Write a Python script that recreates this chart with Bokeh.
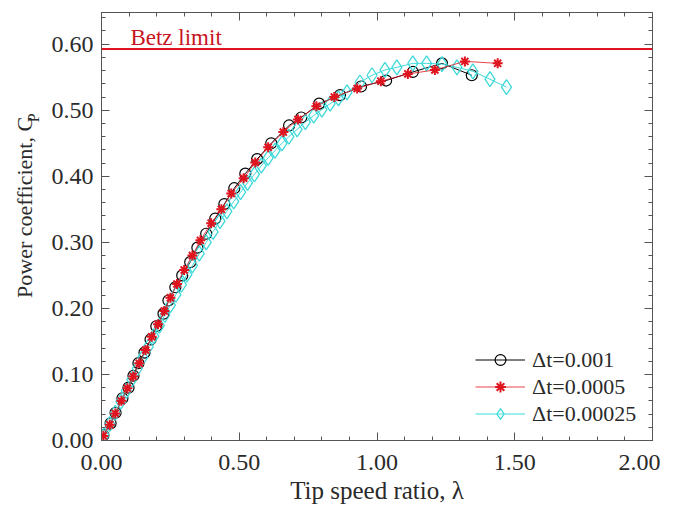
import math
from bokeh.plotting import figure
from bokeh.layouts import row
from bokeh.core.properties import value
from bokeh.models import (Range1d, LinearAxis, NumeralTickFormatter, SingleIntervalTicker,
                          CustomJSTickFormatter, Span, Label, Legend, LegendItem)
from bokeh.embed import file_html
from bokeh.resources import INLINE

# ---- data ----
lam_1 = [0.007, 0.033, 0.051, 0.076, 0.098, 0.116, 0.134, 0.156, 0.178, 0.199, 0.225, 0.243,
         0.268, 0.293, 0.322, 0.348, 0.380, 0.413, 0.446, 0.482, 0.522, 0.565, 0.616, 0.681,
         0.725, 0.790, 0.866, 0.942, 1.033, 1.130, 1.236, 1.344]
cp_1 = [0.008, 0.026, 0.042, 0.064, 0.080, 0.098, 0.117, 0.133, 0.153, 0.173, 0.192, 0.212,
        0.232, 0.250, 0.270, 0.292, 0.313, 0.336, 0.358, 0.382, 0.404, 0.426, 0.450, 0.477,
        0.489, 0.510, 0.523, 0.536, 0.545, 0.558, 0.571, 0.553]

lam_2 = [0.007, 0.030, 0.050, 0.072, 0.094, 0.115, 0.137, 0.160, 0.182, 0.205, 0.228, 0.250,
         0.274, 0.300, 0.330, 0.359, 0.398, 0.435, 0.471, 0.516, 0.558, 0.605, 0.660, 0.713,
         0.780, 0.845, 0.928, 1.014, 1.112, 1.210, 1.319, 1.438]
cp_2 = [0.007, 0.024, 0.041, 0.060, 0.079, 0.097, 0.117, 0.137, 0.157, 0.176, 0.196, 0.216,
        0.237, 0.258, 0.280, 0.303, 0.329, 0.350, 0.374, 0.397, 0.421, 0.444, 0.467, 0.486,
        0.506, 0.520, 0.533, 0.544, 0.555, 0.561, 0.574, 0.571]

lam_3 = [0.010, 0.030, 0.050, 0.070, 0.090, 0.110, 0.130, 0.150, 0.170, 0.190, 0.210, 0.230,
         0.250, 0.270, 0.290, 0.310, 0.330, 0.355, 0.380, 0.405, 0.430, 0.455, 0.480, 0.505,
         0.530, 0.555, 0.580, 0.605, 0.630, 0.655, 0.680, 0.710, 0.740, 0.770, 0.800, 0.830,
         0.860, 0.891, 0.938, 0.982, 1.029, 1.072, 1.130, 1.180, 1.236, 1.290, 1.348, 1.410, 1.470]
cp_3 = [0.008, 0.025, 0.042, 0.059, 0.075, 0.092, 0.109, 0.126, 0.142, 0.158, 0.174, 0.190,
        0.205, 0.221, 0.236, 0.251, 0.265, 0.283, 0.300, 0.316, 0.332, 0.347, 0.362, 0.376,
        0.390, 0.403, 0.416, 0.428, 0.439, 0.450, 0.460, 0.471, 0.482, 0.492, 0.501, 0.510,
        0.518, 0.527, 0.542, 0.553, 0.561, 0.565, 0.571, 0.571, 0.570, 0.565, 0.559, 0.547, 0.535]

betz = 16 / 27
series_labels = ["\u0394t=0.001", "\u0394t=0.0005", "\u0394t=0.00025"]
x_label = "Tip speed ratio, \u03bb"
y_label = "Power coefficient, C"
y_label_sub = "P"

FONT = "Liberation Serif"
AX = "#555555"
TXT = "#2a2a2a"
RED = "#e0141e"
CYAN = "#3fd9d9"

H = 502
LW = 48

# ---- narrow panel holding the rotated y-axis title ----
lab = figure(width=LW, height=H, output_backend="svg", toolbar_location=None,
             x_range=Range1d(0, LW), y_range=Range1d(0, H),
             min_border=0, x_axis_location=None, y_axis_location=None)
lab.xgrid.visible = False
lab.ygrid.visible = False
lab.outline_line_color = None
lab.text(x=[24], y=[H - 338], text=[y_label], angle=math.pi / 2,
         text_font=value(FONT), text_font_size="22px", text_color=TXT,
         text_align="left", text_baseline="middle")
lab.text(x=[33], y=[H - 130], text=[y_label_sub], angle=math.pi / 2,
         text_font=value(FONT), text_font_size="16px", text_color=TXT,
         text_align="left", text_baseline="middle")

# ---- main chart ----
p = figure(frame_width=551, frame_height=428, output_backend="svg", toolbar_location=None,
           x_range=Range1d(0, 2.0), y_range=Range1d(0, 0.648),
           min_border_left=101 - LW, min_border_right=8, min_border_top=12,
           min_border_bottom=H - 12 - 428,
           x_axis_location=None, y_axis_location=None)
p.xgrid.visible = False
p.ygrid.visible = False
p.outline_line_color = AX
p.background_fill_color = "white"
p.border_fill_color = "white"


def style_axis(ax, show_labels, ticker):
    ax.ticker = ticker
    ax.axis_line_color = AX
    ax.major_tick_line_color = AX
    ax.minor_tick_line_color = AX
    ax.major_tick_in = 8
    ax.major_tick_out = 0
    ax.minor_tick_in = 4
    ax.minor_tick_out = 0
    ax.major_label_text_font = FONT
    ax.major_label_text_color = TXT
    if show_labels:
        ax.formatter = NumeralTickFormatter(format="0.00")
        ax.major_label_text_font_size = "24px"
    else:
        ax.formatter = CustomJSTickFormatter(code="return ''")
        ax.major_label_standoff = 0


xt = lambda: SingleIntervalTicker(interval=0.5, num_minor_ticks=5)
yt = lambda: SingleIntervalTicker(interval=0.1, num_minor_ticks=5)

xb = LinearAxis()
style_axis(xb, True, xt())
xb.major_label_standoff = 14
xb.axis_label = x_label
xb.axis_label_text_font = FONT
xb.axis_label_text_font_style = "normal"
xb.axis_label_text_font_size = "25px"
xb.axis_label_text_color = TXT
xb.axis_label_standoff = 4
p.add_layout(xb, "below")

yl = LinearAxis()
style_axis(yl, True, yt())
yl.major_label_standoff = 8
p.add_layout(yl, "left")

xa = LinearAxis()
style_axis(xa, False, xt())
p.add_layout(xa, "above")
yr = LinearAxis()
style_axis(yr, False, yt())
p.add_layout(yr, "right")

# Betz limit
p.add_layout(Span(location=betz, dimension="width", line_color=RED, line_width=2))
p.add_layout(Label(x=0.105, y=betz, y_offset=-1, text="Betz limit", text_font=FONT,
                   text_font_size="23px", text_color="#c8141e", text_baseline="bottom"))

l1 = p.line(lam_1, cp_1, line_color="black", line_width=1)
s1 = p.scatter(lam_1, cp_1, marker="circle", size=11, line_color="black", line_width=1.2,
               fill_color=None)
l3 = p.line(lam_3, cp_3, line_color=CYAN, line_width=1)
s3 = p.scatter(lam_3, cp_3, marker="diamond", size=15, line_color=CYAN, line_width=1.3,
               fill_color=None)
l2 = p.line(lam_2, cp_2, line_color=RED, line_width=1, line_alpha=0.8)
s2 = p.scatter(lam_2, cp_2, marker="asterisk", size=10, line_color=RED, line_width=2)

legend = Legend(items=[LegendItem(label=series_labels[0], renderers=[l1, s1]),
                       LegendItem(label=series_labels[1], renderers=[l2, s2]),
                       LegendItem(label=series_labels[2], renderers=[l3, s3])],
                location=(374, 13), padding=0, margin=0, spacing=0,
                glyph_width=50, glyph_height=27, label_height=27, label_standoff=7,
                border_line_color=None, background_fill_alpha=0,
                label_text_font=FONT, label_text_font_size="22px", label_text_color=TXT)
p.add_layout(legend, "center")

layout = row(lab, p, spacing=0)
open("out.html", "w").write(file_html(layout, INLINE))
